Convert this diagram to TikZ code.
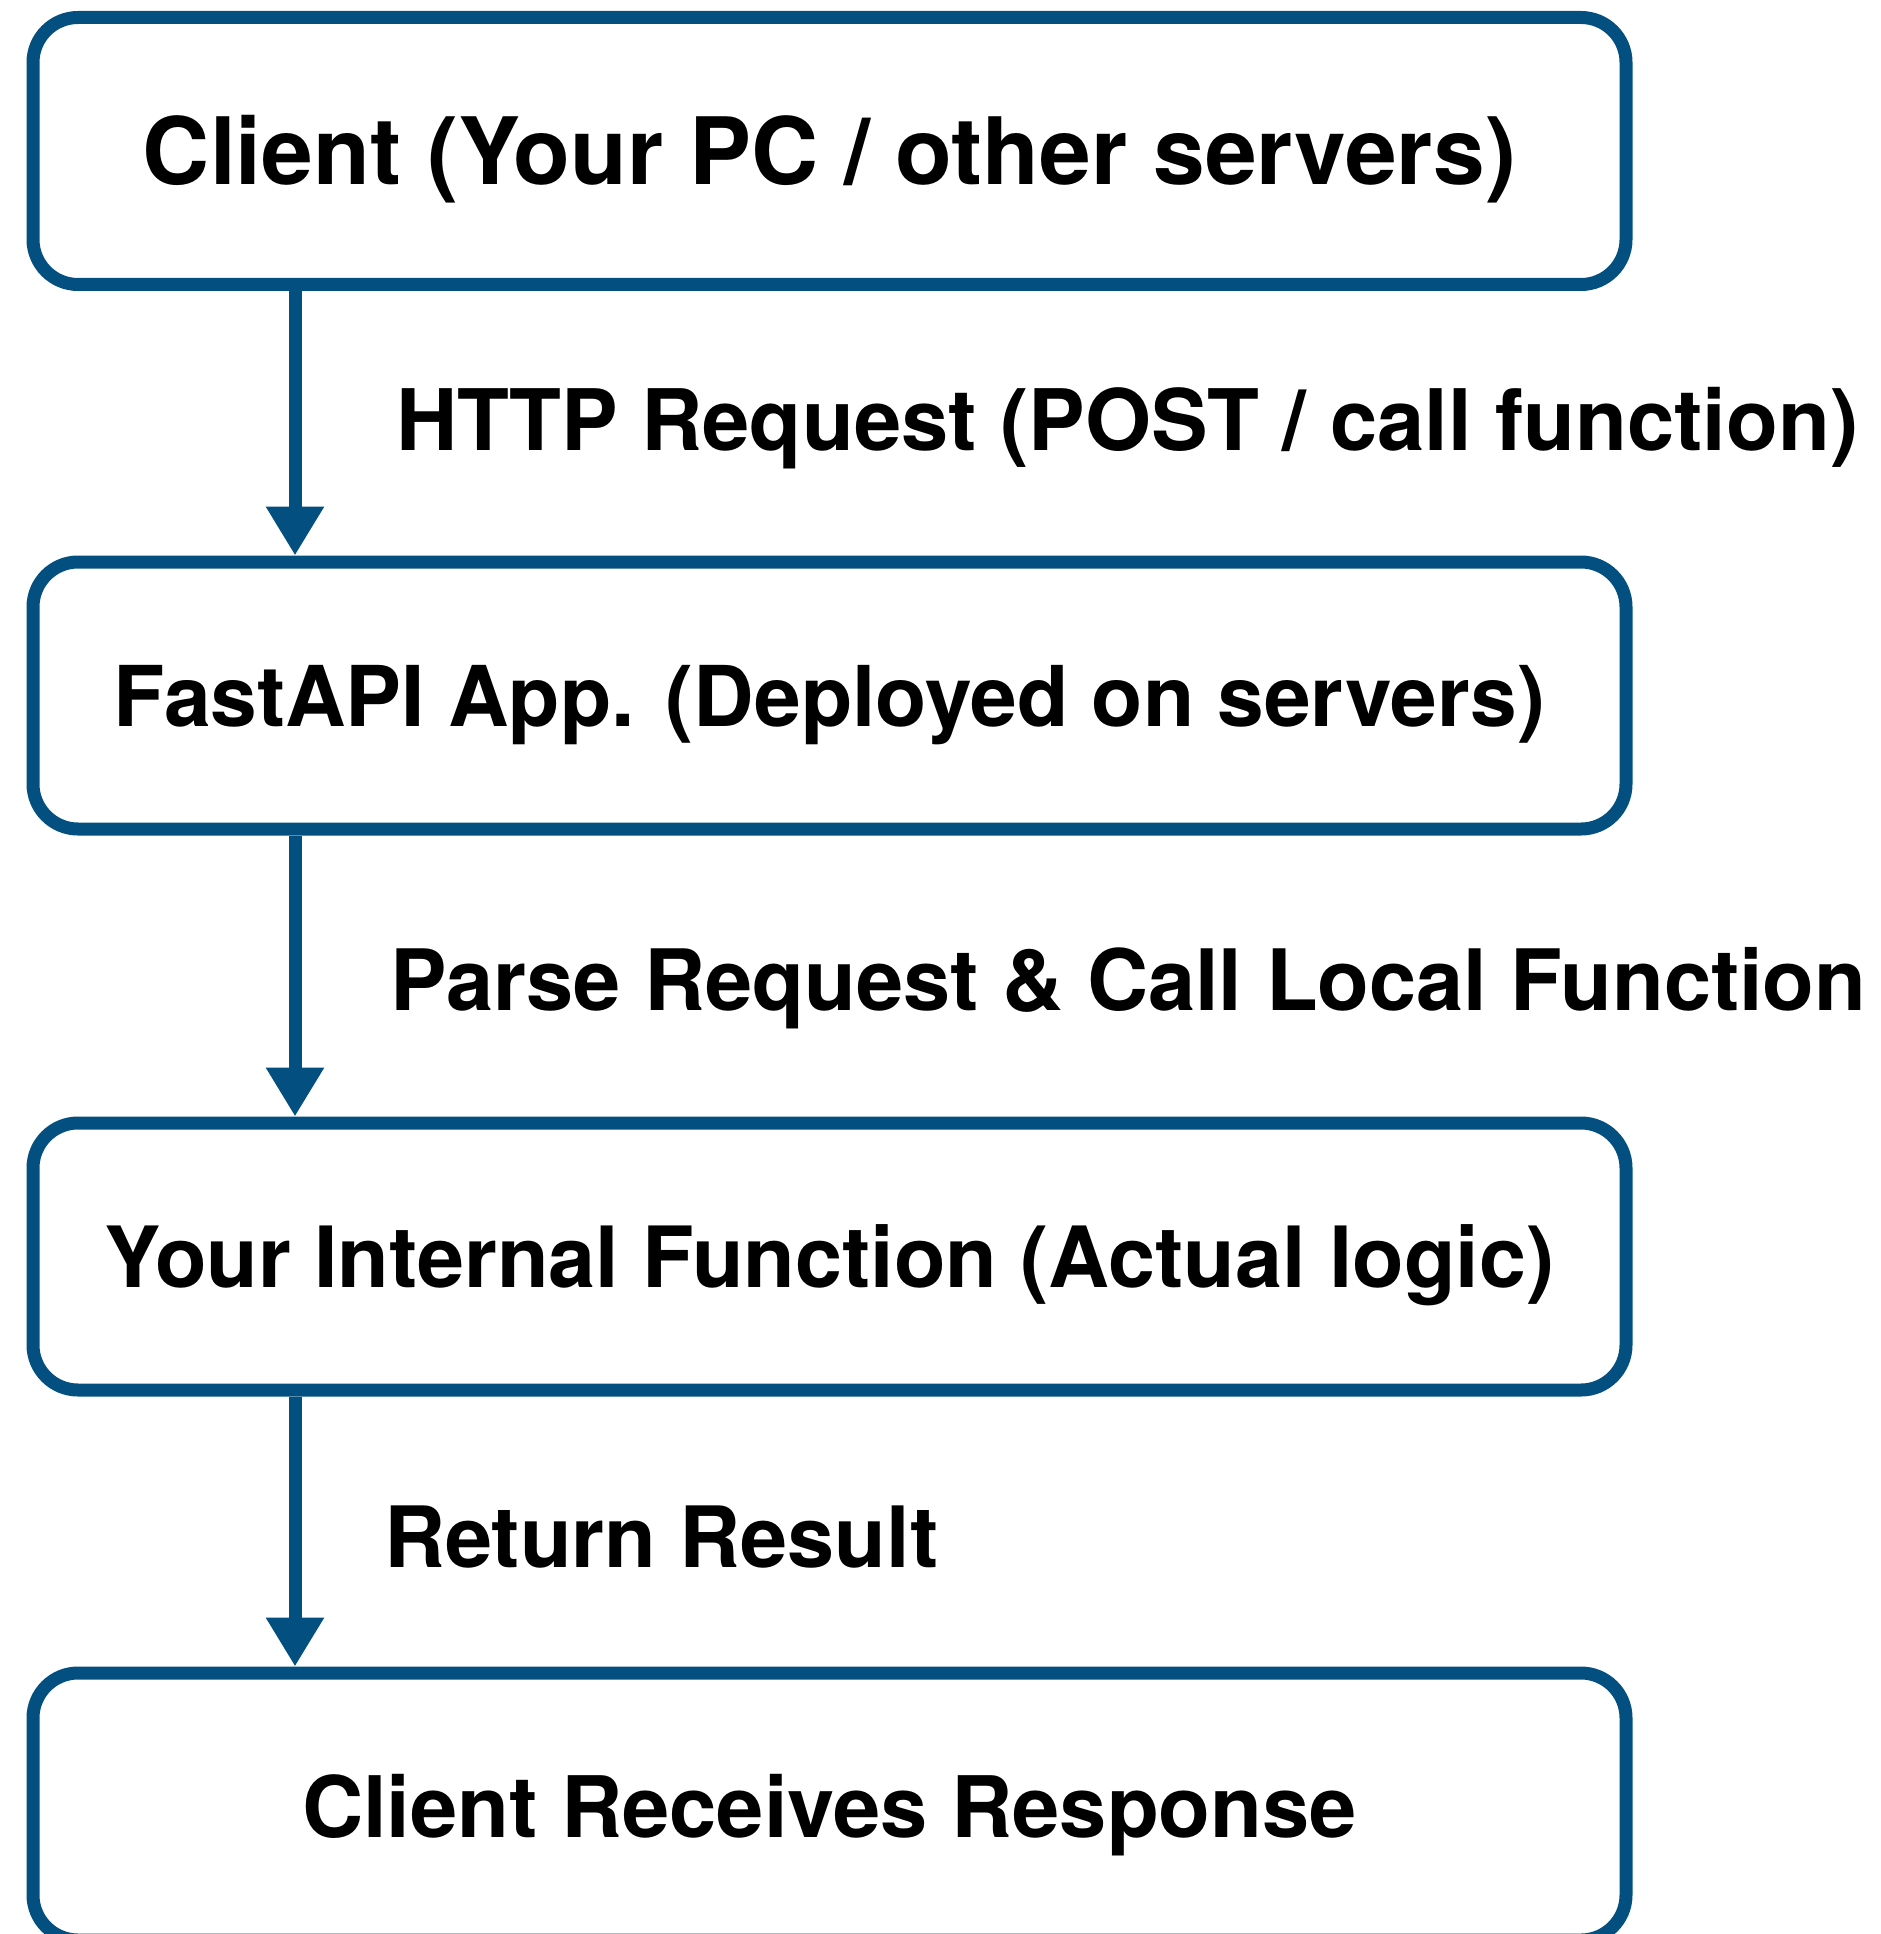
\documentclass[tikz,border=0pt]{standalone}
\usepackage{fontspec}
\usepackage{graphicx}
\setmainfont{TeX Gyre Heros}
\usetikzlibrary{arrows.meta}
\definecolor{boxblue}{RGB}{3,80,128}
\newcommand{\fitw}[2]{\resizebox{#1pt}{!}{#2}}
\tikzset{
  flowbox/.style={draw=boxblue, line width=13pt, rounded corners=45pt,
    minimum width=1593pt, minimum height=267pt, inner sep=0pt,
    text height=61pt, text depth=0pt,
    font=\fontsize{85}{90}\selectfont\bfseries},
  flowlabel/.style={anchor=base west, inner sep=0pt,
    font=\fontsize{85.5}{92}\selectfont\bfseries},
  flowarrow/.style={draw=boxblue, line width=13pt,
    -{Triangle[width=55pt,length=49pt]}}
}
\begin{document}
\begin{tikzpicture}[x=1pt,y=-1pt]
\useasboundingbox (0,0) rectangle (1880,1934);
\clip (0,0) rectangle (1880,1934);
\node[flowbox, text height=67pt, font=\fontsize{93}{100}\selectfont\bfseries] (b1) at (829.5,151) {\fitw{1373}{Client (Your PC / other servers)}};
\node[flowbox] (b2) at (829.5,695.5) {\fitw{1431}{FastAPI App. (Deployed on servers)}};
\node[flowbox] (b3) at (829.5,1256.5) {\fitw{1450}{Your Internal Function (Actual logic)}};
\node[flowbox] (b4) at (829.5,1806.5) {\fitw{1055}{Client Receives Response}};
\coordinate (ax) at (295,0);
\draw[flowarrow] (b1.south -| ax) -- (b2.north -| ax);
\draw[flowarrow] (b2.south -| ax) -- (b3.north -| ax);
\draw[flowarrow] (b3.south -| ax) -- (b4.north -| ax);
\node[flowlabel] (l1) at (396,450) {\fitw{1462}{HTTP Request (POST / call function)}};
\node[flowlabel] (l2) at (390,1010) {\fitw{1476}{Parse Request \& Call Local Function}};
\node[flowlabel] (l3) at (384,1567) {\fitw{554}{Return Result}};
\end{tikzpicture}
\end{document}
